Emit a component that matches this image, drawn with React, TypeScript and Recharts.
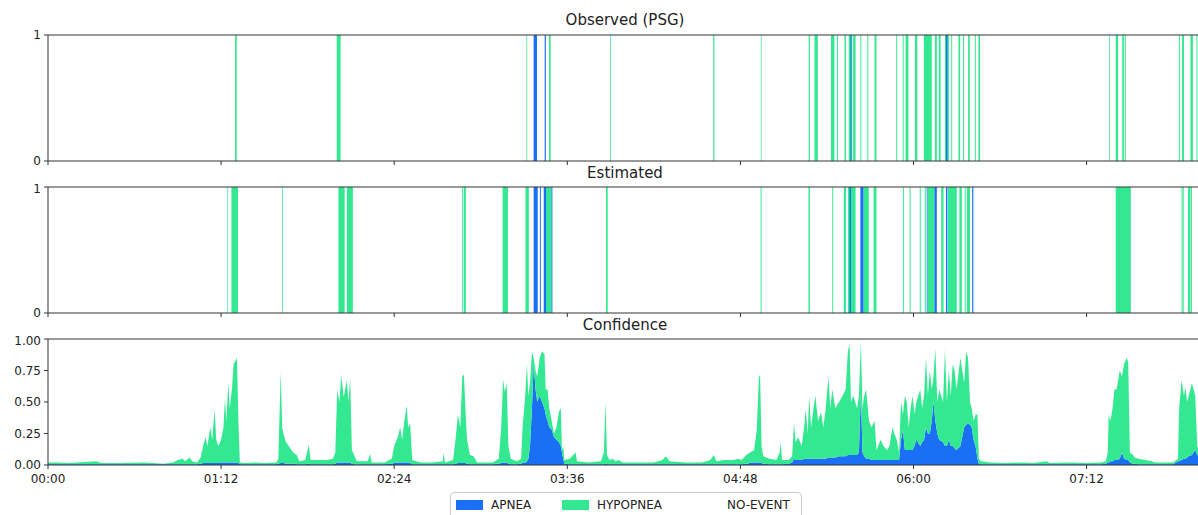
import React from 'react';
import { ComposedChart, Area, Line, XAxis, YAxis, ReferenceArea, ReferenceLine } from 'recharts';

// ---------- data ----------
const xTickMinutes = [0, 72, 144, 216, 288, 360, 432];
const legendLabels = ['APNEA', 'HYPOPNEA', 'NO-EVENT'];
const panelTitles = ['Observed (PSG)', 'Estimated', 'Confidence'];

// events as [start, end] in minutes after 00:00
const observedHypopnea: [number, number][] = [
  [77.8, 78.5], [120.1, 121.7], [199.0, 199.3], [208.4, 209.1], [233.8, 234.1],
  [276.7, 277.2], [296.5, 296.8], [316.4, 316.9], [318.8, 320.2], [325.7, 327.1],
  [328.2, 328.6], [331.3, 331.9], [333.1, 334.5], [334.9, 335.9], [337.9, 338.3],
  [340.8, 341.2], [343.8, 344.6], [352.8, 353.2], [355.5, 355.9], [356.7, 357.9],
  [360.6, 361.6], [364.3, 367.6], [368.9, 369.7], [370.5, 371.3], [373.1, 374.7],
  [375.7, 376.1], [378.7, 379.4], [380.6, 381.0], [382.7, 383.4], [385.5, 385.9],
  [387.0, 387.7], [441.4, 441.7], [444.1, 445.1], [446.8, 447.5], [447.9, 448.3],
  [470.4, 470.8], [471.7, 472.5], [475.2, 476.2], [477.7, 478.1],
];
const observedApnea: [number, number][] = [
  [202.0, 203.4], [206.6, 207.1], [333.8, 334.2], [373.5, 374.1],
];
const estimatedHypopnea: [number, number][] = [
  [74.6, 74.9], [76.3, 79.0], [97.4, 97.7], [120.8, 123.4], [124.3, 126.8],
  [172.2, 172.5], [172.9, 173.8], [189.1, 191.3], [198.6, 200.0], [207.2, 209.4],
  [232.1, 232.8], [296.4, 296.8], [316.3, 316.9], [326.2, 326.6], [331.0, 331.9],
  [332.7, 335.9], [339.2, 341.4], [343.4, 344.6], [355.6, 356.0], [358.4, 358.8],
  [362.6, 363.0], [364.7, 365.1], [365.8, 368.7], [371.5, 372.5], [374.3, 378.0],
  [379.1, 380.1], [381.3, 381.7], [382.2, 383.5], [444.1, 450.4], [471.5, 471.9],
  [472.0, 472.4], [474.2, 475.2], [475.4, 475.8],
];
const estimatedApnea: [number, number][] = [
  [202.0, 203.7], [204.6, 205.0], [206.2, 207.2], [209.4, 209.8], [333.4, 334.0],
  [337.9, 339.2], [365.5, 365.8], [368.7, 369.7], [373.5, 374.1], [384.4, 384.9],
];

// confidence (stacked probabilities), minutes after 00:00
const confMinutes = [
  0, 4, 8, 12, 20, 22, 30, 40, 48, 52, 54, 56, 57, 59, 60, 62,
  63.5, 64.5, 65.5, 66.3, 67.5, 68.3, 69.3, 70, 70.8, 72, 73, 73.6, 74.2, 75, 75.6, 76.5, 77.2, 78.6, 79.2, 79.8,
  82, 86, 90, 95, 95.8, 96.8, 97.4, 98, 99, 100.5, 102, 103.5, 104.5, 107, 108.5, 109.2, 112, 116, 118.5,
  119.5, 120.3, 121.2, 122, 123, 124.3, 125, 125.7, 126.4, 127.5, 128.5, 133, 134, 134.6, 140, 143, 144, 145.5, 146.5, 147.3, 148.2, 149.2, 149.8, 150.6, 151.5,
  155, 160, 164.2, 164.6, 165.1, 168.5, 169.5, 170.5, 171.5, 172.3, 173, 173.6, 174.3, 175.5, 177, 178.5, 185, 187.5, 188.5, 189.3, 190, 190.8, 191.5, 192.5, 195, 196.8,
  197.4, 198.5, 199.2, 199.8, 200.5, 201.3, 202, 202.8, 203.5, 204.5, 205.5, 206.5, 207, 207.8, 208.5, 209.5, 210.5, 211.5, 212.5, 213.3, 213.8, 214.3, 214.8, 217, 219.5, 220,
  225, 230, 231.2, 231.9, 232.5, 233.5, 235, 236, 237.5, 239, 245, 252, 255.5, 257, 258.5, 265, 272, 275.5, 276.9, 278, 281, 285, 287,
  288.5, 290.5, 292, 293.7, 294.8, 295.7, 296.2, 296.8, 297.5, 300, 303, 304.3, 304.8, 305.3, 308, 309.5,
  310.3, 311, 312, 313.5, 314.5, 315.2, 316, 316.6, 317.4, 318.4, 319.2, 320.3, 321.5, 322.5, 323.5, 324.6, 325.4, 326.2, 327.5, 329, 330.5, 331.8, 332.7, 333.4, 334, 335, 336.5, 337.3, 338.1, 338.8, 339.5, 340.3, 341.5, 342.5, 343.8, 344.6,
  345.3, 346.3, 347.5, 349, 350, 351.3, 352, 353, 354, 354.8, 355.6, 356.4, 357.2, 358, 358.8, 359.6, 360.4, 361.2, 362.8, 363.6, 364.4, 365.2, 366, 366.8, 367.6, 368.3, 369.1, 369.9, 370.7, 372.3, 373.1, 373.9, 374.7, 375.5, 376.3, 377.1, 377.9, 379.5, 381.1, 381.9, 382.7, 383.5, 384.2, 385, 385.8, 386.6, 387.2, 388,
  392, 398, 405, 410, 415.5, 416.5, 425, 432, 438, 440,
  440.8, 441.2, 441.9, 442.8, 443.6, 444.5, 445.8, 446.7, 447.6, 448.6, 449.3, 450, 451.3, 452, 453.5, 456.5, 459, 460.5, 468,
  470, 470.5, 471.5, 472.5, 473.1, 473.8, 474.5, 475.8, 477.2, 478, 479, 480,
];
const confApnea = [
  0.005, 0.005, 0.005, 0.005, 0.005, 0.005, 0.005, 0.005, 0.005, 0.005, 0.005, 0.005, 0.005, 0.005, 0.005, 0.005,
  0.01, 0.015, 0.015, 0.015, 0.015, 0.015, 0.015, 0.015, 0.015, 0.02, 0.02, 0.02, 0.02, 0.02, 0.02, 0.02, 0.02, 0.02, 0.015, 0.005,
  0.005, 0.005, 0.005, 0.005, 0.01, 0.015, 0.015, 0.015, 0.01, 0.01, 0.01, 0.005, 0.005, 0.005, 0.01, 0.005, 0.005, 0.005, 0.005,
  0.01, 0.02, 0.02, 0.02, 0.02, 0.02, 0.02, 0.02, 0.01, 0.005, 0.005, 0.005, 0.005, 0.005, 0.005, 0.01, 0.015, 0.02, 0.02, 0.02, 0.02, 0.02, 0.02, 0.015, 0.005,
  0.005, 0.005, 0.005, 0.005, 0.005, 0.005, 0.01, 0.015, 0.015, 0.015, 0.015, 0.015, 0.01, 0.005, 0.005, 0.005, 0.005, 0.01, 0.015, 0.02, 0.02, 0.02, 0.01, 0.005, 0.005, 0.01,
  0.02, 0.02, 0.03, 0.05, 0.15, 0.45, 0.8, 0.6, 0.5, 0.55, 0.5, 0.45, 0.4, 0.35, 0.3, 0.28, 0.22, 0.2, 0.18, 0.15, 0.1, 0.05, 0.01, 0.005, 0.005, 0.005,
  0.005, 0.005, 0.005, 0.01, 0.005, 0.005, 0.005, 0.005, 0.005, 0.005, 0.005, 0.005, 0.005, 0.005, 0.005, 0.005, 0.005, 0.005, 0.005, 0.005, 0.005, 0.005, 0.005,
  0.005, 0.01, 0.015, 0.02, 0.02, 0.02, 0.02, 0.015, 0.01, 0.005, 0.005, 0.005, 0.005, 0.005, 0.01, 0.02,
  0.05, 0.04, 0.04, 0.04, 0.05, 0.05, 0.05, 0.05, 0.05, 0.05, 0.05, 0.05, 0.05, 0.05, 0.05, 0.06, 0.06, 0.06, 0.06, 0.07, 0.07, 0.07, 0.08, 0.08, 0.08, 0.08, 0.08, 0.1, 0.57, 0.1, 0.07, 0.05, 0.05, 0.04, 0.04, 0.04,
  0.04, 0.04, 0.04, 0.04, 0.04, 0.04, 0.04, 0.04, 0.04, 0.2, 0.28, 0.12, 0.12, 0.12, 0.12, 0.12, 0.15, 0.2, 0.15, 0.18, 0.2, 0.3, 0.25, 0.25, 0.35, 0.5, 0.35, 0.25, 0.2, 0.18, 0.15, 0.15, 0.2, 0.15, 0.15, 0.13, 0.12, 0.15, 0.3, 0.32, 0.33, 0.32, 0.3, 0.2, 0.15, 0.05, 0.01, 0.005,
  0.005, 0.005, 0.005, 0.005, 0.005, 0.005, 0.005, 0.005, 0.005, 0.01,
  0.02, 0.02, 0.03, 0.03, 0.04, 0.04, 0.05, 0.1, 0.05, 0.04, 0.04, 0.02, 0.01, 0.01, 0.005, 0.005, 0.005, 0.005, 0.005,
  0.03, 0.03, 0.04, 0.05, 0.05, 0.06, 0.07, 0.08, 0.12, 0.08, 0.06, 0.06,
];
const confHypopnea = [
  0.015, 0.015, 0.01, 0.015, 0.025, 0.01, 0.01, 0.015, 0.005, 0.015, 0.035, 0.045, 0.025, 0.055, 0.025, 0.015,
  0.05, 0.135, 0.205, 0.135, 0.285, 0.185, 0.425, 0.185, 0.135, 0.18, 0.28, 0.51, 0.33, 0.63, 0.43, 0.58, 0.78, 0.83, 0.335, 0.015,
  0.01, 0.015, 0.01, 0.015, 0.04, 0.725, 0.285, 0.225, 0.17, 0.13, 0.09, 0.075, 0.025, 0.035, 0.15, 0.035, 0.035, 0.035, 0.045,
  0.09, 0.58, 0.48, 0.69, 0.52, 0.65, 0.48, 0.67, 0.11, 0.065, 0.025, 0.025, 0.085, 0.015, 0.015, 0.04, 0.135, 0.2, 0.28, 0.18, 0.33, 0.45, 0.28, 0.315, 0.035,
  0.015, 0.015, 0.025, 0.095, 0.015, 0.035, 0.19, 0.385, 0.285, 0.685, 0.705, 0.435, 0.19, 0.075, 0.065, 0.015, 0.015, 0.04, 0.285, 0.66, 0.56, 0.63, 0.14, 0.045, 0.025, 0.04,
  0.28, 0.53, 0.77, 0.5, 0.5, 0.45, 0.05, 0.15, 0.2, 0.3, 0.4, 0.43, 0.2, 0.25, 0.15, 0.07, 0.03, 0.1, 0.24, 0.3, 0.02, 0.1, 0.03, 0.045, 0.095, 0.025,
  0.015, 0.025, 0.095, 0.49, 0.075, 0.035, 0.045, 0.025, 0.035, 0.015, 0.015, 0.015, 0.035, 0.065, 0.025, 0.015, 0.015, 0.035, 0.075, 0.025, 0.035, 0.035, 0.045,
  0.035, 0.07, 0.085, 0.1, 0.26, 0.68, 0.69, 0.135, 0.06, 0.045, 0.035, 0.095, 0.175, 0.035, 0.03, 0.05,
  0.28, 0.14, 0.18, 0.11, 0.25, 0.39, 0.2, 0.5, 0.25, 0.4, 0.5, 0.3, 0.37, 0.25, 0.4, 0.64, 0.39, 0.54, 0.39, 0.43, 0.48, 0.53, 0.82, 0.88, 0.42, 0.47, 0.37, 0.45, 0.41, 0.35, 0.48, 0.55, 0.3, 0.26, 0.31, 0.08,
  0.11, 0.16, 0.11, 0.08, 0.11, 0.26, 0.21, 0.16, 0.06, 0.3, 0.12, 0.43, 0.38, 0.18, 0.33, 0.43, 0.25, 0.3, 0.45, 0.27, 0.35, 0.55, 0.3, 0.5, 0.25, 0.2, 0.57, 0.25, 0.4, 0.32, 0.77, 0.35, 0.55, 0.4, 0.65, 0.62, 0.48, 0.7, 0.35, 0.58, 0.52, 0.18, 0.15, 0.15, 0.25, 0.35, 0.04, 0.025,
  0.015, 0.01, 0.015, 0.01, 0.025, 0.01, 0.015, 0.01, 0.015, 0.02,
  0.08, 0.38, 0.32, 0.42, 0.56, 0.56, 0.7, 0.6, 0.75, 0.81, 0.78, 0.08, 0.07, 0.05, 0.045, 0.035, 0.025, 0.015, 0.015,
  0.02, 0.42, 0.63, 0.5, 0.57, 0.44, 0.48, 0.57, 0.43, 0.07, 0.04, 0.04,
];

// ---------- styling ----------
const APNEA_COLOR = '#1a6ff5';
const HYPOPNEA_COLOR = '#33e891';
const AXIS_COLOR = '#333333';
const TEXT_COLOR = '#222222';
const FONT = '"DejaVu Sans", Verdana, sans-serif';
const CHART_W = 1220;
const MARGIN_L = 8;
const MARGIN_R = 18;
const X_DOMAIN: [number, number] = [0, 480];
const Y_DOMAIN: [number, number] = [0, 1];

const fmtTime = (m: number) => {
  const h = Math.floor(m / 60);
  const mm = Math.round(m - h * 60);
  return `${String(h).padStart(2, '0')}:${String(mm).padStart(2, '0')}`;
};

const tickStyle = { fill: TEXT_COLOR, fontSize: 12, fontFamily: FONT };
const EmptyTick = () => <g />;

const confRows = confMinutes.map((t, i) => ({ t, apnea: confApnea[i], hypopnea: confHypopnea[i] }));
// frame rows spanning the axes' domains (invisible scaffold so axes get scales)
const frameRows = [
  { t: X_DOMAIN[0], frame: Y_DOMAIN[0] },
  { t: X_DOMAIN[1], frame: Y_DOMAIN[1] },
];

function EventPanel({ top, height, marginTop, hypo, apnea }: {
  top: number; height: number; marginTop: number;
  hypo: [number, number][]; apnea: [number, number][];
}) {
  return (
    <div style={{ position: 'absolute', left: 0, top }}>
      <ComposedChart width={CHART_W} height={height} data={frameRows}
        margin={{ top: marginTop, right: MARGIN_R, bottom: 0, left: MARGIN_L }}>
        <XAxis dataKey="t" type="number" domain={X_DOMAIN} ticks={xTickMinutes} tick={EmptyTick}
          height={20} tickSize={4} axisLine={{ stroke: AXIS_COLOR }} tickLine={{ stroke: AXIS_COLOR }}
          allowDataOverflow />
        <YAxis type="number" domain={Y_DOMAIN} ticks={[0, 1]} width={40} tickSize={4} tickMargin={3}
          tick={tickStyle} axisLine={{ stroke: AXIS_COLOR }} tickLine={{ stroke: AXIS_COLOR }} />
        <Line dataKey="frame" stroke="transparent" dot={false} activeDot={false} isAnimationActive={false} />
        {hypo.map(([a, b], i) => (
          <ReferenceArea key={`h${i}`} x1={a} x2={b} y1={0} y2={1} fill={HYPOPNEA_COLOR}
            fillOpacity={1} stroke="none" ifOverflow="hidden" />
        ))}
        {apnea.map(([a, b], i) => (
          <ReferenceArea key={`a${i}`} x1={a} x2={b} y1={0} y2={1} fill={APNEA_COLOR}
            fillOpacity={1} stroke="none" ifOverflow="hidden" />
        ))}
        <ReferenceLine y={1} stroke={AXIS_COLOR} strokeWidth={1} />
      </ComposedChart>
    </div>
  );
}

function ConfidencePanel({ top }: { top: number }) {
  return (
    <div style={{ position: 'absolute', left: 0, top }}>
      <ComposedChart width={CHART_W} height={160} data={confRows}
        margin={{ top: 6, right: MARGIN_R, bottom: 0, left: MARGIN_L }}>
        <XAxis dataKey="t" type="number" domain={X_DOMAIN} ticks={xTickMinutes} tickFormatter={fmtTime}
          height={28} tickSize={4} tickMargin={5} tick={tickStyle}
          axisLine={{ stroke: AXIS_COLOR }} tickLine={{ stroke: AXIS_COLOR }} allowDataOverflow />
        <YAxis type="number" domain={Y_DOMAIN} ticks={[0, 0.25, 0.5, 0.75, 1]} width={40} tickSize={4}
          tickMargin={3} tick={tickStyle} tickFormatter={(v: number) => v.toFixed(2)}
          axisLine={{ stroke: AXIS_COLOR }} tickLine={{ stroke: AXIS_COLOR }} />
        <Area dataKey="apnea" stackId="c" type="linear" fill={APNEA_COLOR} fillOpacity={1}
          stroke="none" isAnimationActive={false} dot={false} activeDot={false} />
        <Area dataKey="hypopnea" stackId="c" type="linear" fill={HYPOPNEA_COLOR} fillOpacity={1}
          stroke="none" isAnimationActive={false} dot={false} activeDot={false} />
        <ReferenceLine y={1} stroke={AXIS_COLOR} strokeWidth={1} />
      </ComposedChart>
    </div>
  );
}

const titleStyle = (top: number): React.CSSProperties => ({
  position: 'absolute', left: 625, top, transform: 'translateX(-50%)', whiteSpace: 'nowrap',
  fontFamily: FONT, fontSize: 15, lineHeight: '18px', color: TEXT_COLOR, zIndex: 2,
});

export default function App() {
  const legendColors = [APNEA_COLOR, HYPOPNEA_COLOR, '#ffffff'];
  const legendOffsets = [0, 106, 236];
  return (
    <div style={{ position: 'fixed', left: 0, top: 0, width: 1198, height: 515, overflow: 'hidden', background: '#fff' }}>
      <EventPanel top={0} height={181} marginTop={35} hypo={observedHypopnea} apnea={observedApnea} />
      <EventPanel top={181} height={152} marginTop={6} hypo={estimatedHypopnea} apnea={estimatedApnea} />
      <ConfidencePanel top={333} />
      <div style={titleStyle(11)}>{panelTitles[0]}</div>
      <div style={titleStyle(164)}>{panelTitles[1]}</div>
      <div style={titleStyle(316)}>{panelTitles[2]}</div>
      <div style={{
        position: 'absolute', left: 450, top: 492, width: 352, height: 34, boxSizing: 'border-box',
        border: '1px solid #cccccc', borderRadius: 4, background: '#fff', zIndex: 3,
      }}>
        {legendLabels.map((lab, i) => (
          <React.Fragment key={lab}>
            <div style={{ position: 'absolute', left: 5 + legendOffsets[i], top: 7, width: 27, height: 10, background: legendColors[i] }} />
            <div style={{
              position: 'absolute', left: 40 + legendOffsets[i], top: 4, fontFamily: FONT, fontSize: 12,
              lineHeight: '16px', color: TEXT_COLOR, whiteSpace: 'nowrap',
            }}>{lab}</div>
          </React.Fragment>
        ))}
      </div>
    </div>
  );
}
